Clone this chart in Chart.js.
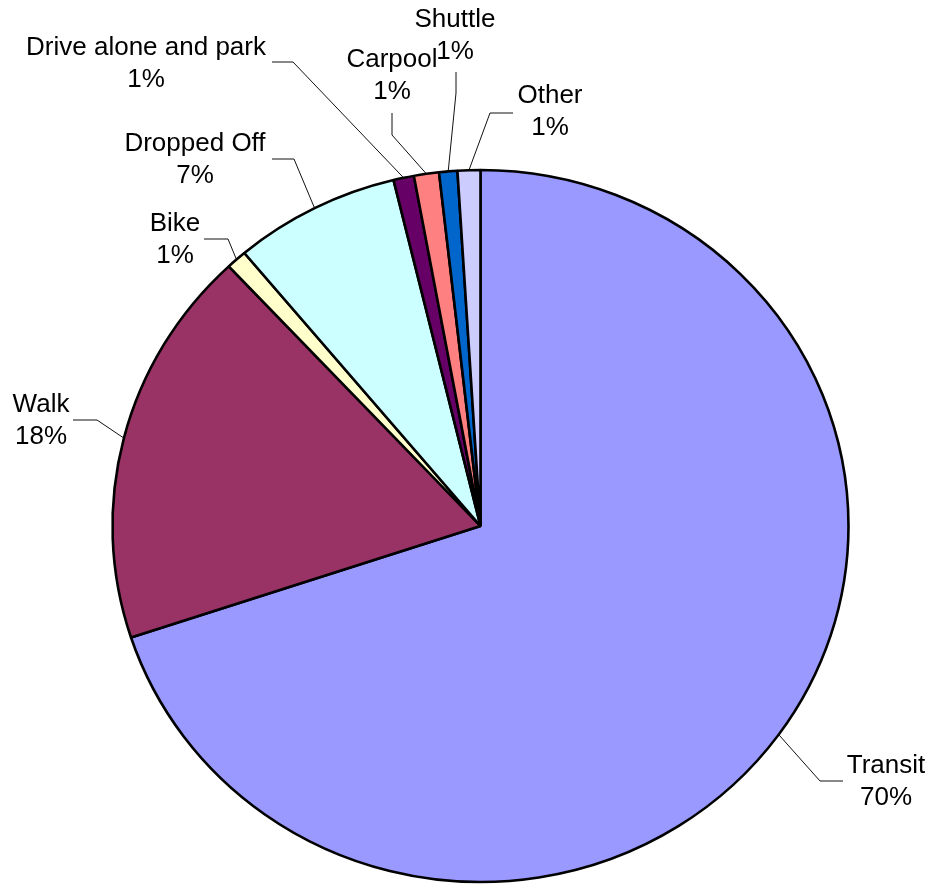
<!DOCTYPE html>
<html>
<head>
<meta charset="utf-8">
<script src="https://cdn.jsdelivr.net/npm/chart.js@4.4.1/dist/chart.umd.min.js"></script>
<style>
    body { margin: 0; background: #ffffff; }
    #mainContentDivId { width: 933px; height: 886px; position: relative; }
</style>
</head>
<body>
<div id="mainContentDivId"></div>
<script>
// slices, clockwise from 12 o'clock
const categories = ['Transit', 'Walk', 'Bike', 'Dropped Off', 'Drive alone and park', 'Carpool', 'Shuttle', 'Other'];
const shares = [70.0, 18.1, 0.9, 7.3, 0.9, 1.1, 0.8, 1.0];
const sliceColors = ['#9999FF', '#993366', '#FFFFCC', '#CCFFFF', '#660066', '#FF8080', '#0066CC', '#CCCCFF'];

// hand placed data labels (text centre x, first baseline y) and leader elbow / end points
const labelLayout = [
    { x: 886, y: 773, elbow: [820, 781], end: [843, 781] },
    { x: 41, y: 412, elbow: [97, 420], end: [73, 420] },
    { x: 175, y: 231, elbow: [228, 239], end: [204, 239] },
    { x: 195, y: 151, elbow: [294, 159], end: [272, 159] },
    { x: 146, y: 55, elbow: [293, 62], end: [272, 62] },
    { x: 392, y: 67, elbow: [392, 135], end: [392, 113] },
    { x: 455, y: 27, elbow: [456, 93], end: [456, 72] },
    { x: 550, y: 103, elbow: [490, 113], end: [513, 113] }
];

const ySquash = 356 / 368;   // pie is a little wider than tall

let mainContentDiv;
let chartCanvas;

window.addEventListener("DOMContentLoaded", init);

function edgePoint(arc) {
    const mid = (arc.startAngle + arc.endAngle) / 2;
    return [arc.x + Math.cos(mid) * arc.outerRadius, arc.y + Math.sin(mid) * arc.outerRadius * ySquash];
}

const squashPlugin = {
    id: 'squash',
    beforeDatasetsDraw(chart) {
        const arc = chart.getDatasetMeta(0).data[0];
        const ctx = chart.ctx;
        ctx.save();
        ctx.translate(arc.x, arc.y);
        ctx.scale(1, ySquash);
        ctx.translate(-arc.x, -arc.y);
    },
    afterDatasetsDraw(chart) {
        chart.ctx.restore();
    }
};

const labelPlugin = {
    id: 'sliceLabels',
    afterDraw(chart) {
        const ctx = chart.ctx;
        const arcs = chart.getDatasetMeta(0).data;
        const values = chart.data.datasets[0].data;
        const total = values.reduce((a, b) => a + b, 0);
        ctx.save();
        ctx.strokeStyle = '#111111';
        ctx.lineWidth = 1;
        arcs.forEach((arc, i) => {
            const lay = labelLayout[i];
            const p = edgePoint(arc);
            ctx.beginPath();
            ctx.moveTo(p[0], p[1]);
            ctx.lineTo(lay.elbow[0], lay.elbow[1]);
            ctx.lineTo(lay.end[0], lay.end[1]);
            ctx.stroke();
        });
        ctx.fillStyle = '#000000';
        ctx.font = '26px "Liberation Sans", Arial, sans-serif';
        ctx.textAlign = 'center';
        ctx.textBaseline = 'alphabetic';
        arcs.forEach((arc, i) => {
            const lay = labelLayout[i];
            const pct = Math.round(values[i] / total * 100) + '%';
            ctx.fillText(chart.data.labels[i], lay.x, lay.y);
            ctx.fillText(pct, lay.x, lay.y + 32);
        });
        ctx.restore();
    }
};

function init() {

    mainContentDiv = document.getElementById("mainContentDivId");
    chartCanvas = document.createElement("canvas");
    chartCanvas.setAttribute("id", "chartCanvasId");
    mainContentDiv.appendChild(chartCanvas);

    new Chart(chartCanvas, {
        type: 'pie',
        data: {
            labels: categories,
            datasets: [{
                data: shares,
                backgroundColor: sliceColors,
                borderColor: '#000000',
                borderWidth: 2.6,
                clip: false
            }]
        },
        options: {
            responsive: true,
            maintainAspectRatio: false,
            animation: false,
            events: [],
            radius: 368,
            layout: {
                padding: { left: 28, right: 0, top: 166, bottom: 0 }
            },
            plugins: {
                legend: { display: false },
                tooltip: { enabled: false }
            }
        },
        plugins: [squashPlugin, labelPlugin]
    });
}
</script>
</body>
</html>
